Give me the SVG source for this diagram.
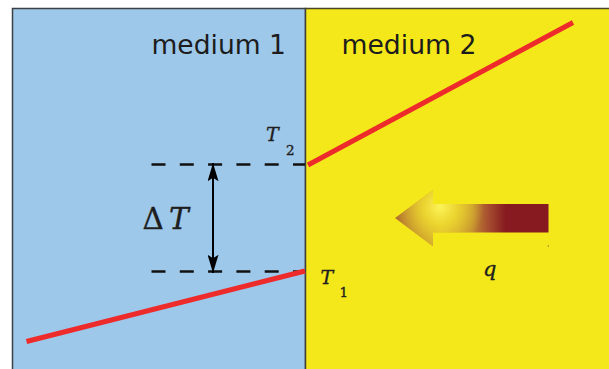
<svg xmlns="http://www.w3.org/2000/svg" width="609" height="369" viewBox="0 0 609 369">
  <defs>
    <style>
      .lbl { font-family: "DejaVu Sans", "Liberation Sans", sans-serif; font-size: 26px; fill: #1c1c1c; }
      .math { font-family: "DejaVu Serif", "Liberation Serif", serif; fill: #1e1e1e; stroke: #1e1e1e; stroke-width: 0.35px; }
      .it { font-style: italic; }
      .dash { stroke: #111111; stroke-width: 2.5; stroke-dasharray: 14 14.3; fill: none; }
      .red { stroke: #ee2b2b; stroke-width: 5; fill: none; stroke-linecap: butt; }
    </style>
    <marker id="ah" viewBox="0 0 20 12" refX="20" refY="6" markerWidth="20" markerHeight="11" markerUnits="userSpaceOnUse" orient="auto-start-reverse">
      <path d="M0,0 L20,6 L0,12 L4,6 z" fill="#000000"/>
    </marker>
    <linearGradient id="qgrad" gradientUnits="userSpaceOnUse" x1="395" y1="0" x2="549" y2="0">
      <stop offset="0" stop-color="#b06e2e"/>
      <stop offset="0.3" stop-color="#d8b02a"/>
      <stop offset="0.5" stop-color="#c08a30"/>
      <stop offset="0.6" stop-color="#a85030"/>
      <stop offset="0.72" stop-color="#861a20"/>
      <stop offset="1" stop-color="#861a20"/>
    </linearGradient>
    <radialGradient id="qglow" gradientUnits="userSpaceOnUse" cx="440" cy="207" r="44">
      <stop offset="0" stop-color="#fcf45a" stop-opacity="1"/>
      <stop offset="0.4" stop-color="#f2e030" stop-opacity="0.8"/>
      <stop offset="1" stop-color="#f2e030" stop-opacity="0"/>
    </radialGradient>
  </defs>

  <rect x="0" y="0" width="609" height="369" fill="#ffffff"/>

  <g id="medium1">
    <rect x="12.5" y="8.5" width="293" height="365" fill="#9ec8ea" stroke="#3c4044" stroke-width="1.5"/>
    <text class="lbl" x="151.5" y="53.5" textLength="134.5" lengthAdjust="spacingAndGlyphs">medium 1</text>
  </g>

  <g id="medium2">
    <rect x="305.5" y="8.5" width="310" height="365" fill="#f5e81a" stroke="#4a4426" stroke-width="1.5"/>
    <line x1="305.5" y1="8.5" x2="305.5" y2="369" stroke="#3c4044" stroke-width="1"/>
    <text class="lbl" x="341.5" y="53.5" textLength="135" lengthAdjust="spacingAndGlyphs">medium 2</text>
  </g>

  <g id="connectors">
    <line class="dash" x1="151.5" y1="164.5" x2="305" y2="164.5"/>
    <line class="dash" x1="151.5" y1="271.5" x2="305" y2="271.5"/>
    <line x1="213" y1="163" x2="213" y2="273" stroke="#000000" stroke-width="2" marker-start="url(#ah)" marker-end="url(#ah)"/>
    <line class="red" x1="308" y1="165" x2="573" y2="22.5"/>
    <line class="red" x1="26.5" y1="341.5" x2="305" y2="271"/>
  </g>

  <g id="labels">
    <text class="math" x="142.5" y="228.5" style="font-size:29.5px">Δ</text>
    <text class="math it" x="169" y="228.5" style="font-size:29.5px">T</text>
    <text class="math it" x="266" y="141" style="font-size:19px">T</text>
    <text class="math" x="286" y="155" style="font-size:13.5px">2</text>
    <text class="math it" x="320.5" y="283.5" style="font-size:19px">T</text>
    <text class="math" x="339.5" y="297" style="font-size:13.5px">1</text>
  </g>

  <g id="heatflux">
    <polygon points="395,218 433,190 433,204 548.5,204 548.5,232.5 433,232.5 433,246.5" fill="url(#qgrad)"/>
    <polygon points="395,218 433,190 433,204 548.5,204 548.5,232.5 433,232.5 433,246.5" fill="url(#qglow)"/>
    <circle cx="548.3" cy="246" r="0.7" fill="#8a7a3a"/>
    <text class="math it" x="483" y="276" style="font-size:21px">q</text>
  </g>
</svg>
